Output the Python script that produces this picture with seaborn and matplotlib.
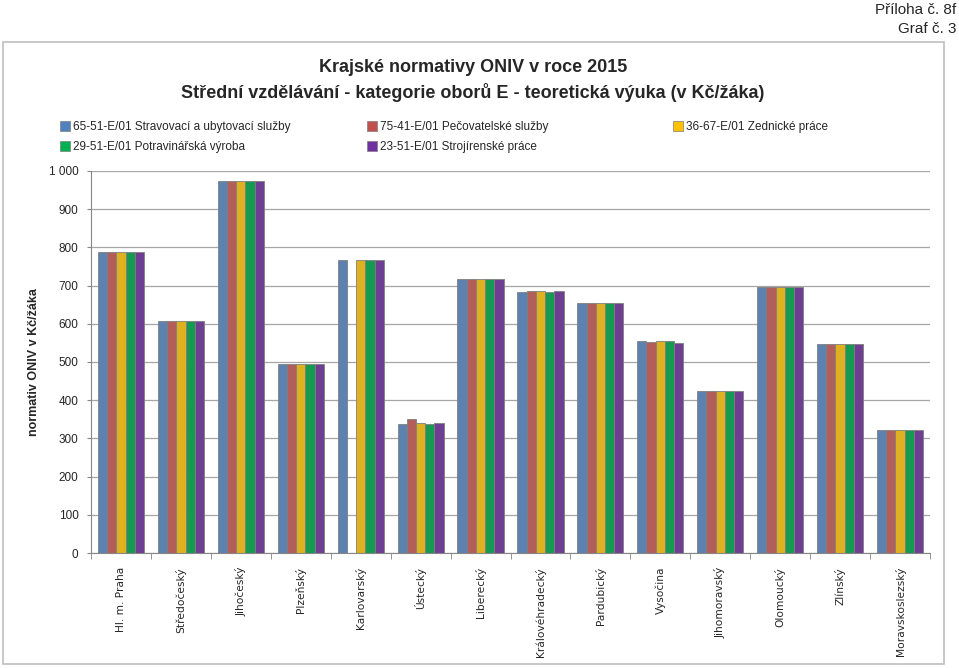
import numpy as np
import pandas as pd
import matplotlib.pyplot as plt
import matplotlib.patches as mpatches
from matplotlib.lines import Line2D
import seaborn as sns

kraje = ['Hl. m. Praha', 'Středočeský', 'Jihočeský', 'Plzeňský', 'Karlovarský', 'Ústecký',
         'Liberecký', 'Královéhradecký', 'Pardubický', 'Vysočina', 'Jihomoravský',
         'Olomoucký', 'Zlínský', 'Moravskoslezský']
obory = ['65-51-E/01 Stravovací a ubytovací služby', '75-41-E/01 Pečovatelské služby',
         '36-67-E/01 Zednické práce', '29-51-E/01 Potravinářská výroba',
         '23-51-E/01 Strojírenské práce']

stravovaci = [789, 608, 974, 495, 768, 338, 717, 683, 655, 554, 425, 697, 547, 322]
pecovatelske = [789, 608, 974, 495, 0, 351, 717, 686, 655, 552, 425, 697, 547, 322]
zednicke = [789, 608, 974, 495, 768, 341, 717, 686, 655, 554, 425, 697, 547, 322]
potravinarska = [789, 608, 974, 495, 768, 338, 717, 683, 655, 554, 425, 697, 547, 322]
strojirenske = [789, 608, 974, 495, 768, 341, 717, 685, 655, 550, 425, 697, 547, 322]

barvy = ['#4F81BD', '#C0504D', '#FFC000', '#00B050', '#7030A0']

rows = []
for obor, vals in zip(obory, [stravovaci, pecovatelske, zednicke, potravinarska, strojirenske]):
    for k, v in zip(kraje, vals):
        rows.append({'Kraj': k, 'Obor': obor, 'Normativ': v})
df = pd.DataFrame(rows)

sns.set_style('white')
plt.rcParams['font.family'] = ['Liberation Sans', 'DejaVu Sans']

fig = plt.figure(figsize=(9.59, 6.68), dpi=100)
ax = fig.add_axes([91 / 959, 115 / 668, 839 / 959, 382 / 668])

sns.barplot(data=df, x='Kraj', y='Normativ', hue='Obor', palette=barvy, order=kraje,
            hue_order=obory, width=0.77, gap=0, edgecolor='#7f7f7f', linewidth=0.6,
            legend=False, ax=ax)

ax.set_ylim(0, 1000)
ax.set_xlim(-0.5, len(kraje) - 0.5)
ax.set_yticks(range(0, 1001, 100))
ax.set_yticklabels(['1 000' if t == 1000 else str(t) for t in range(0, 1001, 100)], fontsize=8.5)
ax.yaxis.grid(True, color='#a6a6a6', linewidth=0.9)
ax.set_axisbelow(True)
for s in ['top', 'right']:
    ax.spines[s].set_visible(False)
ax.spines['left'].set_color('#868686')
ax.spines['bottom'].set_color('#868686')
ax.tick_params(axis='y', length=3, color='#868686', left=True, pad=6)
ax.set_xticks(range(len(kraje)))
ax.set_xticks(np.arange(-0.5, len(kraje), 1), minor=True)
ax.tick_params(axis='x', which='major', length=0, pad=10)
ax.tick_params(axis='x', which='minor', length=4, color='#868686', bottom=True)
ax.set_xticklabels(kraje, rotation=90, fontsize=7.7, family='DejaVu Sans', va='top')
ax.set_xlabel('')
ax.set_ylabel('normativ ONIV v Kč/žáka', fontsize=9, fontweight='bold', labelpad=6)

# frame of the chart
fig.patches.append(mpatches.Rectangle((3 / 959, 4 / 668), 941 / 959, 622 / 668,
                                      transform=fig.transFigure, fill=False,
                                      edgecolor='#bfbfbf', linewidth=1.2))

fig.text(0.997, 0.995, 'Příloha č. 8f', ha='right', va='top', fontsize=11)
fig.text(0.997, 0.967, 'Graf č. 3', ha='right', va='top', fontsize=11)
fig.text(473 / 959, 1 - 67 / 668, 'Krajské normativy ONIV v roce 2015', ha='center',
         va='center', fontsize=13, fontweight='bold')
fig.text(473 / 959, 1 - 93 / 668,
         'Střední vzdělávání - kategorie oborů E - teoretická výuka (v Kč/žáka)',
         ha='center', va='center', fontsize=13, fontweight='bold')

handles = [Line2D([], [], marker='s', linestyle='', markersize=6.5, markerfacecolor=c,
                  markeredgecolor='#7f7f7f', markeredgewidth=0.5) for c in barvy]
pos = [(60, 127), (367, 127), (673, 127), (60, 147), (367, 147)]
for h, lab, (px, py) in zip(handles, obory, pos):
    fig.legend([h], [lab], loc='center left', bbox_to_anchor=(px / 959, 1 - py / 668),
               frameon=False, fontsize=8.5, handlelength=0.8, handletextpad=0.3,
               borderpad=0, borderaxespad=0)

fig.savefig('out.png', dpi=100)
